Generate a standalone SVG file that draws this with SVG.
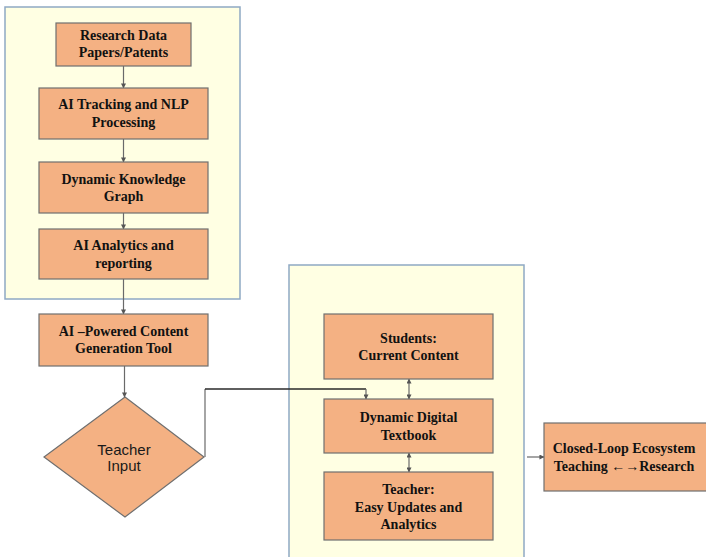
<svg xmlns="http://www.w3.org/2000/svg" width="706" height="557" viewBox="0 0 706 557">
  <style>
    .panel { fill: #FFFFE3; stroke: #8FA9C4; stroke-width: 1.5; }
    .box { fill: #F4B183; stroke: #6F6F6F; stroke-width: 1.2; }
    .lbl { font-family: "Liberation Serif", "Times New Roman", serif; font-weight: bold; font-size: 14px; fill: #111; text-anchor: middle; }
    .dlbl { font-family: "Liberation Sans", Arial, sans-serif; font-size: 15px; fill: #1A1A1A; text-anchor: middle; }
    .wire { fill: none; stroke: #6A6A6A; stroke-width: 1.2; }
    .wire-dark { fill: none; stroke: #2A2A2A; stroke-width: 1.6; }
  </style>
  <defs>
    <marker id="arrow" viewBox="0 0 6 6" refX="5.5" refY="3" markerWidth="5" markerHeight="5" orient="auto-start-reverse" markerUnits="userSpaceOnUse">
      <path d="M0,0 L6,3 L0,6 z" fill="#555"/>
    </marker>
  </defs>

  <rect width="706" height="557" fill="#FFFFFF"/>

  <!-- panels -->
  <rect id="pipeline-panel" class="panel" x="5" y="7" width="235" height="292"/>
  <rect id="textbook-panel" class="panel" x="289" y="265" width="235" height="300"/>

  <!-- connectors -->
  <g id="connectors">
    <line class="wire" x1="123.5" y1="66" x2="123.5" y2="88" marker-end="url(#arrow)"/>
    <line class="wire" x1="123.5" y1="139" x2="123.5" y2="162" marker-end="url(#arrow)"/>
    <line class="wire" x1="123.5" y1="213" x2="123.5" y2="229" marker-end="url(#arrow)"/>
    <line class="wire" x1="123.5" y1="279" x2="123.5" y2="314" marker-end="url(#arrow)"/>
    <line class="wire" x1="124.5" y1="366" x2="124.5" y2="397" marker-end="url(#arrow)"/>
    <polyline class="wire" points="205,457 205,389"/>
    <polyline class="wire-dark" points="205,389 366,389"/>
    <line class="wire" x1="366" y1="389" x2="366" y2="399" marker-end="url(#arrow)"/>
    <line class="wire" x1="409" y1="379" x2="409" y2="399" marker-start="url(#arrow)" marker-end="url(#arrow)"/>
    <line class="wire" x1="409" y1="453" x2="409" y2="472" marker-start="url(#arrow)" marker-end="url(#arrow)"/>
    <line class="wire" x1="527" y1="457" x2="544" y2="457" marker-end="url(#arrow)"/>
  </g>

  <!-- nodes -->
  <g id="research-data">
    <rect class="box" x="56" y="23" width="135" height="43"/>
    <text class="lbl" x="123.5" y="40">Research Data</text>
    <text class="lbl" x="123.5" y="57">Papers/Patents</text>
  </g>
  <g id="ai-tracking">
    <rect class="box" x="39" y="88" width="169" height="51"/>
    <text class="lbl" x="123.5" y="109">AI Tracking and NLP</text>
    <text class="lbl" x="123.5" y="127">Processing</text>
  </g>
  <g id="knowledge-graph">
    <rect class="box" x="39" y="162" width="169" height="51"/>
    <text class="lbl" x="123.5" y="184">Dynamic Knowledge</text>
    <text class="lbl" x="123.5" y="201">Graph</text>
  </g>
  <g id="ai-analytics">
    <rect class="box" x="39" y="229" width="169" height="50"/>
    <text class="lbl" x="123.5" y="250">AI Analytics and</text>
    <text class="lbl" x="123.5" y="268">reporting</text>
  </g>
  <g id="content-tool">
    <rect class="box" x="39" y="314" width="169" height="52"/>
    <text class="lbl" x="123.5" y="336">AI –Powered Content</text>
    <text class="lbl" x="123.5" y="353">Generation Tool</text>
  </g>
  <g id="teacher-input">
    <polygon class="box" points="125,397 204,457 125,517 44,457"/>
    <text class="dlbl" x="124" y="455">Teacher</text>
    <text class="dlbl" x="124" y="471">Input</text>
  </g>
  <g id="students">
    <rect class="box" x="324" y="314" width="169" height="65"/>
    <text class="lbl" x="408.5" y="343">Students:</text>
    <text class="lbl" x="408.5" y="360">Current Content</text>
  </g>
  <g id="digital-textbook">
    <rect class="box" x="324" y="399" width="169" height="54"/>
    <text class="lbl" x="408.5" y="422">Dynamic Digital</text>
    <text class="lbl" x="408.5" y="440">Textbook</text>
  </g>
  <g id="teacher">
    <rect class="box" x="324" y="472" width="169" height="68"/>
    <text class="lbl" x="408.5" y="494">Teacher:</text>
    <text class="lbl" x="408.5" y="512">Easy Updates and</text>
    <text class="lbl" x="408.5" y="529">Analytics</text>
  </g>
  <g id="closed-loop">
    <rect class="box" x="544" y="423" width="166" height="68"/>
    <text class="lbl" x="624" y="453">Closed-Loop Ecosystem</text>
    <text class="lbl" x="624" y="471">Teaching ←→Research</text>
  </g>
</svg>
